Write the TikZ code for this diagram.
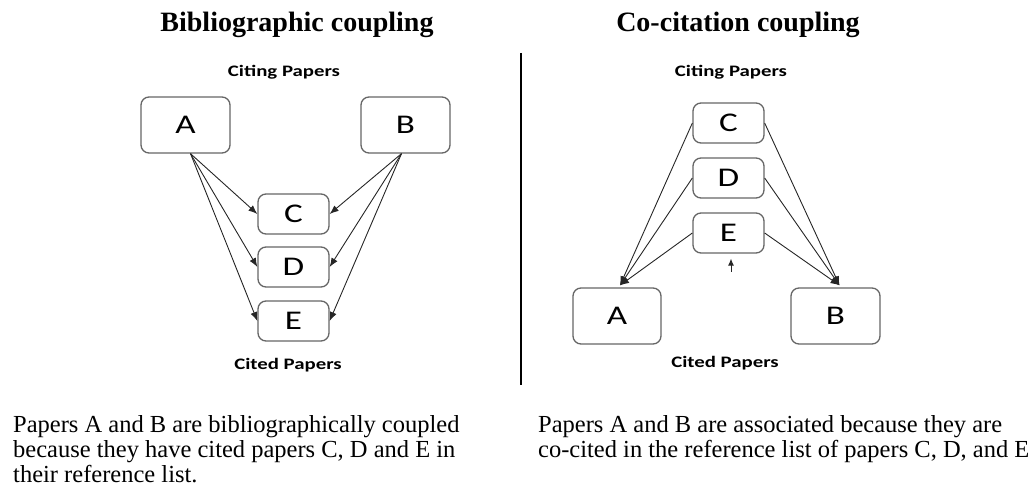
\documentclass[tikz,border=0pt]{standalone}
\usepackage{fontspec}
\setmainfont{Liberation Serif}
\newfontfamily\labelfont[FakeStretch=1.3]{Carlito}
\usetikzlibrary{arrows.meta}

\begin{document}
\begin{tikzpicture}
[x=1pt,y=-1pt,
  boxDecorate/.style={shape=rectangle,rounded corners=8pt,draw=black!60,line width=1.3pt,inner sep=0pt,font=\labelfont\fontsize{27}{27}\selectfont},%
  lineDecorate/.style={-{Latex[length=9pt,width=7pt]},black!85,line width=0.9pt},
  titleDecorate/.style={font=\bfseries\fontsize{28}{28}\selectfont},
  headDecorate/.style={font=\labelfont\bfseries\fontsize{16}{16}\selectfont},
  textDecorate/.style={align=left,anchor=north west,inner sep=0pt,font=\fontsize{24.5}{25}\selectfont}]
\useasboundingbox (0,0) rectangle (1031,487);
%% titles and headings
\node (biblioTitle) at (297,25) [titleDecorate] {Bibliographic coupling};
\node (cociteTitle) at (738,25) [titleDecorate] {Co-citation coupling};
\node (lCiting) at (284,72) [headDecorate] {Citing Papers};
\node (rCiting) at (731,72) [headDecorate] {Citing Papers};
\node (lCited) at (288,365) [headDecorate] {Cited Papers};
\node (rCited) at (725,363) [headDecorate] {Cited Papers};
%% papers
\foreach \nodename/\txt/\x/\y/\w/\h in {lA/A/185.5/125/89/56, lB/B/405.5/125/89/56,
    lC/C/293.5/214/71/40, lD/D/293.5/267/71/40, lE/E/293.5/321/71/40,
    rC/C/728.5/123/71/40, rD/D/728.5/178/71/40, rE/E/728.5/233/71/40,
    rA/A/617/316/88/56, rB/B/835.5/316/89/56} {
  \node (\nodename) at (\x,\y) [boxDecorate,minimum width=\w pt,minimum height=\h pt] {\txt};
}
\coordinate (lAout) at ([xshift=5pt]lA.south);
\coordinate (lBout) at ([xshift=-4pt]lB.south);
\coordinate (rAin) at ([xshift=3pt,yshift=2pt]rA.north);
\coordinate (rBin) at ([xshift=4pt,yshift=2pt]rB.north);
%% citations
\path
\foreach \startnode/\endnode in {lAout/lC.west, lAout/lD.west, lAout/lE.west,
    lBout/lC.east, lBout/lD.east, lBout/lE.east,
    rC.west/rAin, rD.west/rAin, rE.west/rAin,
    rC.east/rBin, rD.east/rBin, rE.east/rBin} {
  (\startnode) edge[lineDecorate] (\endnode)
};
\coordinate (rEmark) at ([xshift=2.5pt,yshift=-18pt]rE.south);
\draw[lineDecorate,-{Latex[length=7pt,width=6pt]}] (rEmark) -- ([xshift=2.5pt,yshift=-5pt]rE.south);
%% divider
\draw[line width=2pt] (521,53) -- (521,385);
%% notes
\node (lNote) at (13,415) [textDecorate] {Papers A and B are bibliographically coupled\\because they have cited papers C, D and E in\\their reference list.};
\node (rNote) at (538,415) [textDecorate] {Papers A and B are associated because they are\\co-cited in the reference list of papers C, D, and E};
\end{tikzpicture}
\end{document}
